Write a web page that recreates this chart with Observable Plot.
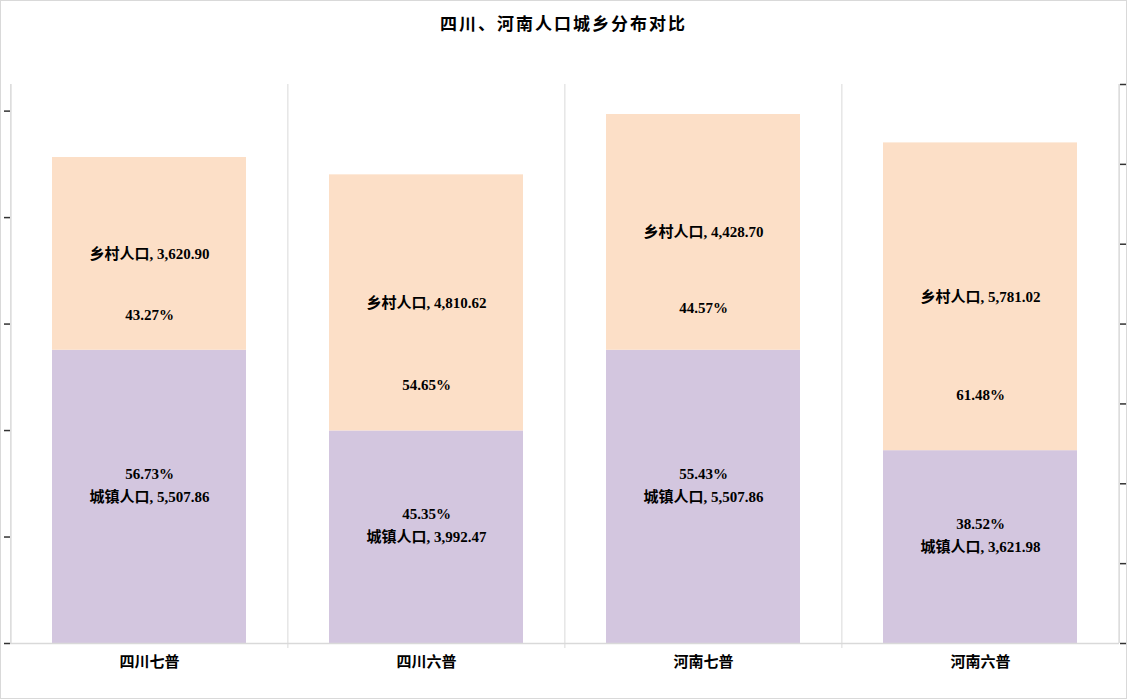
<!DOCTYPE html>
<html>
<head>
<meta charset="utf-8">
<script src="https://cdn.jsdelivr.net/npm/d3@7"></script>
<script src="https://cdn.jsdelivr.net/npm/@observablehq/plot@0.6"></script>
<style>
  html, body { margin: 0; padding: 0; background: #fff; }
  #chart {
    box-sizing: border-box; width: 1127px; height: 699px;
    border: 1px solid #d9d9d9; background: #fff; overflow: hidden;
  }
  #title {
    height: 49px; line-height: 44px; text-align: center;
    font-family: "Noto Sans CJK SC", sans-serif; font-weight: bold;
    font-size: 17px; letter-spacing: 2px; color: #000;
  }
  svg { display: block; }
</style>
</head>
<body>
<div id="chart"><div id="title">四川、河南人口城乡分布对比</div></div>
<script>
const categories = ["四川七普", "四川六普", "河南七普", "河南六普"];
const seriesNames = ["城镇人口", "乡村人口"];
const urban = [5507.86, 3992.47, 5507.86, 3621.98];
const rural = [3620.90, 4810.62, 4428.70, 5781.02];
const urbanPct = [56.73, 45.35, 55.43, 38.52];
const ruralPct = [43.27, 54.65, 44.57, 61.48];
const leftTicks = [0, 2000, 4000, 6000, 8000, 10000];
const rightTicks = [0, 1500, 3000, 4500, 6000, 7500, 9000, 10500];

const colors = ["#d3c6df", "#fcdfc7"];
const fmt = d3.format(",.2f");

const rows = [];
categories.forEach((c, i) => rows.push({cat: c, type: seriesNames[0], value: urban[i]}));
categories.forEach((c, i) => rows.push({cat: c, type: seriesNames[1], value: rural[i]}));

const labels = categories.map((c, i) => ({
  cat: c,
  urbanMid: urban[i] / 2,
  ruralMid: urban[i] + rural[i] / 2,
  ruralPctY: urban[i] + rural[i] * 0.18,
  urbanText: `${seriesNames[0]}, ${fmt(urban[i])}`,
  ruralText: `${seriesNames[1]}, ${fmt(rural[i])}`,
  urbanPctText: urbanPct[i].toFixed(2) + "%",
  ruralPctText: ruralPct[i].toFixed(2) + "%"
}));

const W = 1125, H = 649;
const step = (W - 9 - 7) / categories.length;
const grid = "#d9d9d9";
const labelFont = "'Liberation Serif', 'Noto Sans CJK SC', serif";

const chart = Plot.plot({
  width: W,
  height: H,
  marginTop: 34,
  marginBottom: 56,
  marginLeft: 9,
  marginRight: 7,
  style: {background: "#fff", overflow: "visible"},
  x: {domain: categories, paddingInner: 0.3, paddingOuter: 0.15, axis: null},
  y: {domain: [0, 10500], axis: null},
  color: {domain: seriesNames, range: colors},
  marks: [
    Plot.barY(rows, {x: "cat", y: "value", fill: "type", order: null}),
    // category separators (gridlines)
    Plot.ruleX(categories.slice(1), {x: d => d, dx: -step / 2, stroke: grid, strokeWidth: 1, insetBottom: -5}),
    // plot-area side lines
    Plot.ruleX([categories[0]], {x: d => d, dx: -step / 2, stroke: grid, strokeWidth: 1.5}),
    Plot.ruleX([categories[categories.length - 1]], {x: d => d, dx: step / 2, stroke: grid, strokeWidth: 1.5}),
    Plot.ruleY([0], {stroke: grid, strokeWidth: 1.5}),
    Plot.axisY({anchor: "left", ticks: leftTicks, tickFormat: () => "", tickSize: 6, stroke: "#333", strokeWidth: 1.5}),
    Plot.axisY({anchor: "right", ticks: rightTicks, tickFormat: () => "", tickSize: 6, stroke: "#333", strokeWidth: 1.5}),
    // data labels
    Plot.text(labels, {x: "cat", y: "ruralMid", text: "ruralText", fontSize: 15, fontWeight: "bold", fontFamily: labelFont, fill: "#000"}),
    Plot.text(labels, {x: "cat", y: "ruralPctY", text: "ruralPctText", fontSize: 15, fontWeight: "bold", fontFamily: labelFont, fill: "#000"}),
    Plot.text(labels, {x: "cat", y: "urbanMid", text: "urbanText", fontSize: 15, fontWeight: "bold", fontFamily: labelFont, fill: "#000"}),
    Plot.text(labels, {x: "cat", y: "urbanMid", dy: -23, text: "urbanPctText", fontSize: 15, fontWeight: "bold", fontFamily: labelFont, fill: "#000"}),
    // category labels
    Plot.text(categories, {x: d => d, y: 0, dy: 19, text: d => d, fontSize: 15, fontWeight: "bold", fontFamily: "'Noto Sans CJK SC', sans-serif", fill: "#000", letterSpacing: "1px"})
  ]
});
document.getElementById("chart").appendChild(chart);
</script>
</body>
</html>
